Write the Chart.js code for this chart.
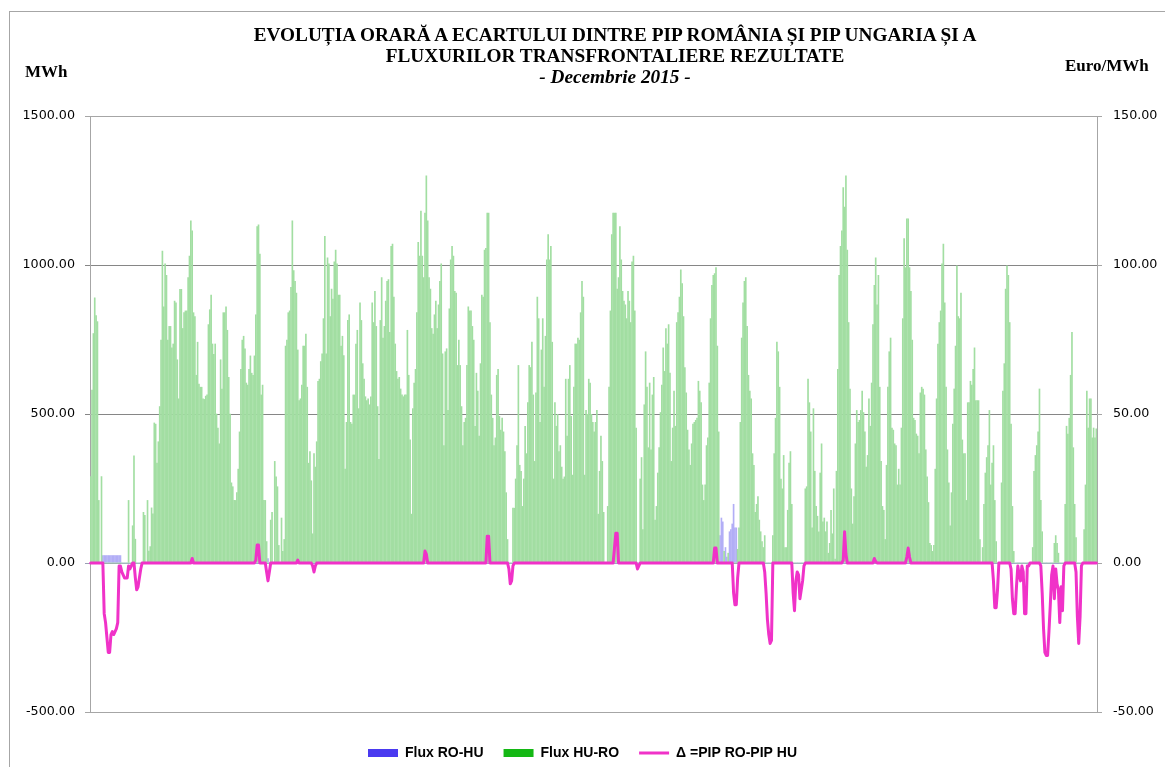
<!DOCTYPE html>
<html lang="ro">
<head>
<meta charset="utf-8">
<script src="https://cdn.jsdelivr.net/npm/chart.js@4.4.1/dist/chart.umd.min.js"></script>
<style>
  html, body { margin: 0; padding: 0; background: #fff; overflow: hidden; }
  #wrap { position: relative; width: 1165px; height: 767px; }
  #frame { position: absolute; left: 9px; top: 11px; width: 1300px; height: 900px; border: 1px solid #a6a6a6; box-sizing: border-box; }
  #chart { position: absolute; left: 0; top: 0; }
  .title { position: absolute; left: 615px; top: 24.4px; transform: translateX(-50%); font: bold 19.3px "Liberation Serif", "Times New Roman", serif; line-height: 21px; text-align: center; white-space: nowrap; color: #000; }
  .unit { position: absolute; font: bold 17px "Liberation Serif", "Times New Roman", serif; line-height: 20px; white-space: nowrap; color: #000; }
</style>
</head>
<body>
<div id="wrap">
  <div id="frame"></div>
  <canvas id="chart" width="1165" height="767"></canvas>
  <div class="title">EVOLUȚIA ORARĂ A ECARTULUI DINTRE PIP ROMÂNIA ȘI PIP UNGARIA ȘI A<br>FLUXURILOR TRANSFRONTALIERE REZULTATE<br><i>- Decembrie 2015 -</i></div>
  <div class="unit" style="left:25px; top:61.8px;">MWh</div>
  <div class="unit" style="left:1065px; top:56.3px;">Euro/MWh</div>
</div>
<script>
// ===== date: ore din decembrie 2015 (31 zile x 24 ore) =====
const Z24 = [0,0,0,0,0,0,0,0,0,0,0,0,0,0,0,0,0,0,0,0,0,0,0,0];

// Flux HU-RO (MWh), cate o zi pe rand
const huRoW1 = [
  290,580,770,890,830,810,210,0,290,0,0,0,0,0,0,0,0,0,0,0,0,0,0,0,
  0,0,0,0,210,0,0,125,360,80,0,0,0,0,0,170,160,0,210,40,55,185,165,470,
  466,335,407,525,748,1047,860,1004,965,748,794,794,722,735,879,873,682,551,918,918,787,840,846,846,
  958,1030,1148,1115,840,827,630,741,600,590,590,551,549,560,564,800,850,899,735,700,735,500,453,400,
  682,584,840,840,860,781,623,500,269,256,210,210,236,315,440,650,748,761,719,604,597,650,695,637,
  630,695,833,1129,1135,1037,564,597,210,210,72,0,0,144,170,0,341,289,256,59,0,151,39,79,
  728,748,840,846,925,1148,981,945,906,715,545,551,597,728,728,768,590,335,374,276,98,367,322,407
];
const huRoW2 = [
  610,617,676,702,820,1096,702,1024,1004,827,919,886,1011,1050,1004,899,899,728,761,696,315,472,814,833,
  472,466,564,564,735,781,518,873,814,669,617,558,545,551,531,558,873,807,912,794,525,348,814,958,
  755,794,879,945,951,774,1063,1070,892,735,643,617,623,584,564,558,564,564,781,630,413,164,518,604,
  650,840,1076,1030,1181,1030,958,1174,1299,1148,958,919,787,768,833,879,787,866,945,1004,702,394,709,719,
  512,853,1017,1063,1030,912,906,663,748,663,525,394,472,486,663,860,846,846,794,748,459,637,577,426,
  669,899,892,1050,1056,1174,1174,807,564,486,394,420,630,650,492,446,486,440,374,236,79,0,0,0,
  184,184,282,394,663,328,308,190,282,459,367,538,663,656,741,564,341,571,892,820,472,715,820,590
];
const huRoW3 = [
  761,1017,1102,1017,1063,741,282,538,459,499,374,394,322,282,289,617,426,617,663,492,295,590,735,735,
  755,748,840,945,892,295,512,499,617,604,499,472,440,472,512,164,308,426,341,170,0,0,190,590,
  846,1102,1174,1174,1174,919,958,1129,1017,912,879,866,820,912,879,807,1011,1030,846,453,0,0,282,354,
  112,531,709,590,387,604,380,564,623,144,190,302,387,505,597,722,643,787,735,800,637,341,453,577,
  459,807,840,892,984,938,827,656,571,446,380,328,400,466,472,479,486,610,577,538,262,210,262,394,
  420,604,820,932,965,971,991,728,440,0,0,0,39,0,0,33,0,0,0,0,0,0,46,118,
  472,755,873,945,958,794,630,577,551,367,328,170,197,223,144,105,72,52,92,0,0,0,0,0
];
const huRoW4 = [
  92,367,486,741,709,590,282,249,361,52,52,177,335,374,197,0,0,0,0,0,0,0,0,0,
  249,256,617,538,440,118,518,308,190,157,105,302,400,138,151,105,138,33,66,177,98,249,13,308,
  650,965,1063,1115,1260,1194,1299,1050,807,584,249,131,223,400,512,472,479,512,577,505,440,322,361,551,
  459,604,800,932,1024,866,965,590,341,190,177,79,328,590,709,755,453,446,400,394,262,315,262,453,
  820,1089,991,1155,1155,991,912,748,486,479,433,426,367,571,590,584,564,380,289,203,66,59,39,59,
  315,551,735,807,846,1004,1070,873,590,380,269,125,236,466,584,728,997,827,820,906,413,367,367,210,
  538,538,610,597,650,722,545,545,545,79,0,52,197,302,354,394,512,262,335,394,210,72,0,0
];
const huRoW5 = [
  0,269,577,669,919,997,965,807,466,190,39,0,0,0,0,0,0,0,0,0,0,0,0,0,
  52,308,361,394,440,584,210,105,0,0,0,0,0,0,0,0,66,92,66,33,0,0,0,0,
  197,459,433,486,630,774,387,197,85,0,0,0,0,0,112,262,577,453,551,551,420,453,420,450
];

// Flux RO-HU (MWh)
const roHuD01 = [0,0,0,0,0,0,0,0,0,25,25,25,25,25,25,25,25,25,25,25,25,25,25,0];
const roHuD06 = [0,0,0,0,0,0,0,0,0,0,0,15,0,0,0,0,0,0,0,0,0,0,0,0];
const roHuD20 = [0,0,0,0,0,0,0,0,0,92,151,138,0,52,20,0,105,112,131,197,118,118,0,0];

// Δ = PIP RO - PIP HU (Euro/MWh)
const deltaW1 = [
  0,0,0,0,0,0,0,0,0,0,-17,-20,-25,-30,-30,-24,-23,-24,-23,-22,-20,-1,-1,-3,
  -4,-5,-5,-5,-1,-2,-1,0,0,-5,-9,-8,-5,-2,0,0,0,0,0,0,0,0,0,0,
  ...Z24,
  0,0,0,1.5,0,0,0,0,0,0,0,0,0,0,0,0,0,0,0,0,0,0,0,0,
  ...Z24,
  0,0,1,6,6,0,0,0,0,0,-3,-6,-3,0,0,0,0,0,0,0,0,0,0,0,
  0,0,0,0,0,0,0,0,0,1,0,0,0,0,0,0,0,0,0,0,-1,-3,-1,0
];
const deltaW2 = [
  ...Z24, ...Z24, ...Z24,
  0,0,0,0,0,0,0,4,3,0,0,0,0,0,0,0,0,0,0,0,0,0,0,0,
  ...Z24,
  0,0,0,0,0,9,9,0,0,0,0,0,0,0,0,0,0,0,0,0,0,-2,-7,-6,
  -1,0,0,0,0,0,0,0,0,0,0,0,0,0,0,0,0,0,0,0,0,0,0,0
];
const deltaW3 = [
  ...Z24, ...Z24,
  0,0,0,5,10,10,0,0,0,0,0,0,0,0,0,0,0,0,0,0,-2,-1,0,0,
  ...Z24, ...Z24,
  0,0,0,0,0,5,5,0,0,0,0,0,0,0,0,0,0,0,0,-10,-14,-14,-5,0,
  0,0,0,0,0,0,0,0,0,0,0,0,0,0,0,0,0,0,-3,-10,-19,-24,-27,-26
];
const deltaW4 = [
  0,0,0,0,0,0,0,0,0,0,0,0,0,0,0,-10,-16,-6,-3,-4,-12,-9,-6,-1,
  ...Z24,
  0,0,0,0,1,10.5,3,0,0,0,0,0,0,0,0,0,0,0,0,0,0,0,0,0,
  0,0,0,1.5,0.5,0,0,0,0,0,0,0,0,0,0,0,0,0,0,0,0,0,0,0,
  0,0,0,2,5,2,0,0,0,0,0,0,0,0,0,0,0,0,0,0,0,0,0,0,
  ...Z24,
  0,0,0,0,0,0,0,0,0,0,0,0,0,0,0,0,0,0,0,-6,-15,-15,-9,0
];
const deltaW5 = [
  0,0,0,0,0,0,0,0,-2,-12,-17,-17,-8,-1,-4,-6,-1,-3,-17,-17,-1,-1,0,0,
  0,0,0,0,0,0,-1,-10,-22,-30,-31,-31,-23,-14,-4,-1,-12,-2,-7,-9,-20,-8,-16,-1,
  0,0,0,0,0,0,0,0,-3,-18,-27,-18,-1,0,0,0,0,0,0,0,0,0,0,0
];

const mwhTicks = [-500, 0, 500, 1000, 1500];
const euroTicks = [-50, 0, 50, 100, 150];

const fluxHuRo = [...huRoW1, ...huRoW2, ...huRoW3, ...huRoW4, ...huRoW5];
const fluxRoHu = [
  ...roHuD01, ...Z24, ...Z24, ...Z24, ...Z24, ...roHuD06, ...Z24,
  ...Z24, ...Z24, ...Z24, ...Z24, ...Z24, ...Z24, ...Z24,
  ...Z24, ...Z24, ...Z24, ...Z24, ...Z24, ...roHuD20, ...Z24,
  ...Z24, ...Z24, ...Z24, ...Z24, ...Z24, ...Z24, ...Z24,
  ...Z24, ...Z24, ...Z24
];
const deltaPip = [...deltaW1, ...deltaW2, ...deltaW3, ...deltaW4, ...deltaW5];

const hours = [];
for (let d = 1; d <= 31; d++) {
  for (let h = 0; h < 24; h++) hours.push(`${d}.12.2015 ${h}:00`);
}

const GREEN = '#14b814', BLUE = '#4a3af0', MAGENTA = '#f032c8';
const tickFont = { family: '"DejaVu Sans", Verdana, sans-serif', size: 12.7 };

new Chart(document.getElementById('chart'), {
  data: {
    labels: hours,
    datasets: [
      {
        type: 'line',
        label: 'Δ =PIP RO-PIP HU',
        data: deltaPip,
        yAxisID: 'y1',
        borderColor: MAGENTA,
        borderWidth: 3,
        pointRadius: 0,
        tension: 0,
        borderJoinStyle: 'round',
        borderCapStyle: 'round',
        order: 0
      },
      {
        type: 'bar',
        label: 'Flux HU-RO',
        data: fluxHuRo,
        yAxisID: 'y',
        backgroundColor: '#a2dea2',
        barThickness: 1,
        grouped: false,
        order: 1
      },
      {
        type: 'bar',
        label: 'Flux RO-HU',
        data: fluxRoHu,
        yAxisID: 'y',
        backgroundColor: '#b2aef6',
        barThickness: 1,
        grouped: false,
        order: 2
      }
    ]
  },
  options: {
    responsive: false,
    animation: false,
    devicePixelRatio: 1,
    layout: { padding: { top: 116, left: 0, right: 0, bottom: -3 } },
    plugins: {
      tooltip: { enabled: false },
      legend: {
        position: 'bottom',
        labels: {
          usePointStyle: true,
          pointStyleWidth: 30,
          boxHeight: 8,
          padding: 20,
          color: '#000',
          font: { family: '"Liberation Sans", Arial, sans-serif', size: 14, weight: 'bold' },
          generateLabels: () => [
            { text: 'Flux RO-HU', fillStyle: BLUE, strokeStyle: BLUE, lineWidth: 0, pointStyle: 'rect', datasetIndex: 2 },
            { text: 'Flux HU-RO', fillStyle: GREEN, strokeStyle: GREEN, lineWidth: 0, pointStyle: 'rect', datasetIndex: 1 },
            { text: 'Δ =PIP RO-PIP HU', fillStyle: MAGENTA, strokeStyle: MAGENTA, lineWidth: 3, pointStyle: 'line', datasetIndex: 0 }
          ]
        }
      }
    },
    scales: {
      x: {
        type: 'category',
        ticks: { display: false },
        grid: { display: false },
        border: { display: false },
        afterFit: s => { s.height = 14; }
      },
      y: {
        position: 'left',
        min: -500,
        max: 1500,
        afterBuildTicks: s => { s.ticks = mwhTicks.map(v => ({ value: v })); },
        afterFit: s => { s.width = 90; },
        ticks: { callback: v => v.toFixed(2), font: tickFont, color: '#000', padding: 10 },
        grid: {
          tickLength: 5,
          color: c => (c.tick.value === 500 || c.tick.value === 1000) ? '#868686' : (c.tick.value === 0 ? '#9aa0b4' : '#a6a6a6')
        },
        border: { color: '#a6a6a6' }
      },
      y1: {
        position: 'right',
        min: -50,
        max: 150,
        afterBuildTicks: s => { s.ticks = euroTicks.map(v => ({ value: v })); },
        afterFit: s => { s.width = 68; },
        ticks: { callback: v => v.toFixed(2), font: tickFont, color: '#000', padding: 11 },
        grid: { drawOnChartArea: false, tickLength: 5, color: '#a6a6a6' },
        border: { color: '#a6a6a6' }
      }
    }
  }
});
</script>
</body>
</html>
